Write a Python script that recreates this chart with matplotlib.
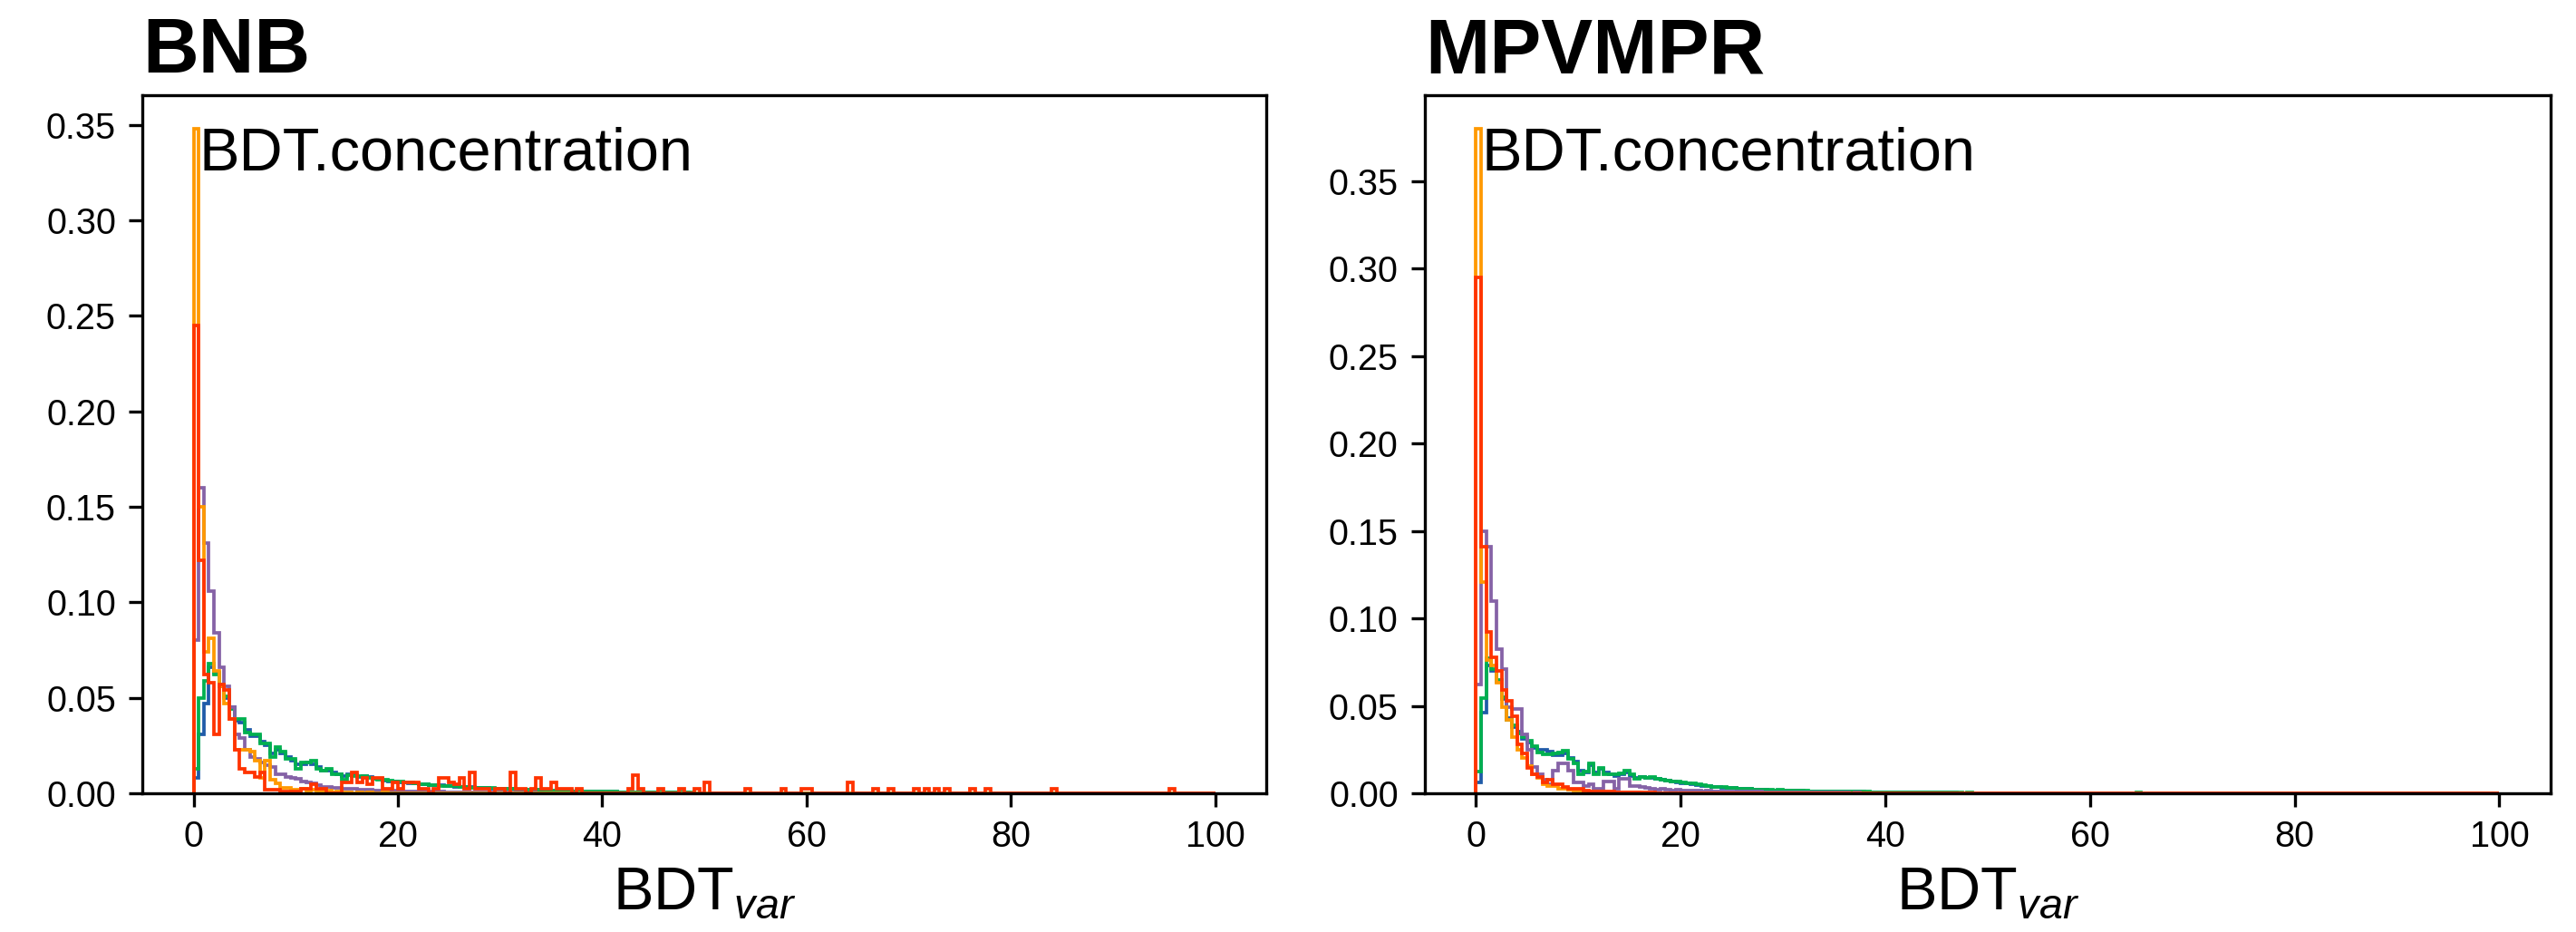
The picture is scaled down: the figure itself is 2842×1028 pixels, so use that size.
import numpy as np
import matplotlib
matplotlib.use("Agg")
import matplotlib.pyplot as plt

plt.rcParams["font.family"] = ["Liberation Sans", "DejaVu Sans"]
plt.rcParams["mathtext.fontset"] = "custom"
plt.rcParams["mathtext.rm"] = "Liberation Sans"
plt.rcParams["mathtext.it"] = "Liberation Sans:italic"
plt.rcParams["mathtext.bf"] = "Liberation Sans:bold"

# 200 bins of width 0.5 between 0 and 100
EDGES = np.linspace(0, 100, 201)
N_BINS = len(EDGES) - 1

PANELS = ["BNB", "MPVMPR"]
SERIES = ["blue", "green", "purple", "orange", "red"]
COLORS = {
    "blue": "#1f5ba8",
    "green": "#00b04f",
    "purple": "#8562a6",
    "orange": "#ff9900",
    "red": "#ff3300",
}

# ---- BNB (left) ----
blue_bnb = [
    0.008, 0.031, 0.047, 0.066, 0.063, 0.056, 0.050, 0.045, 0.038, 0.037,
    0.033, 0.030, 0.030, 0.027, 0.025, 0.021, 0.023, 0.021, 0.019, 0.017,
    0.015, 0.015, 0.016, 0.015, 0.014, 0.012, 0.012, 0.011, 0.010, 0.009,
    0.0098, 0.0093, 0.0085, 0.0088, 0.0084, 0.0076, 0.0074, 0.0068, 0.0064, 0.0063,
    0.0058, 0.0057, 0.0053, 0.0051, 0.0047, 0.0047, 0.0042, 0.0041, 0.0041, 0.0037,
    0.0037, 0.0035, 0.0035, 0.0032, 0.0032, 0.0029, 0.0030, 0.0029, 0.0026, 0.0025,
    0.0025, 0.0024, 0.0023, 0.0021, 0.0021, 0.0019, 0.0019, 0.0018, 0.0016, 0.0016,
    0.0015, 0.0015, 0.0014, 0.0014, 0.0012, 0.0012, 0.0011, 0.0011, 0.0010, 0.0009,
    0.0009, 0.0008, 0.0008, 0.0007, 0.0007, 0.0006, 0.0006, 0.0005, 0.0005, 0.0005,
    0.0004, 0.0004, 0.0004, 0.0003, 0.0003, 0.0003, 0.0003, 0.0002, 0.0002, 0.0002,
    0.0002, 0.0002, 0.0001, 0.0002, 0.0001, 0.0001, 0.0001, 0.0001, 0.0001, 0.0001,
    0.0001, 0.0, 0.0001, 0.0001, 0.0, 0.0001, 0.0, 0.0, 0.0001, 0.0,
]
green_bnb = [
    0.013, 0.050, 0.059, 0.068, 0.062, 0.057, 0.051, 0.044, 0.039, 0.039,
    0.032, 0.031, 0.031, 0.026, 0.026, 0.019, 0.024, 0.022, 0.018, 0.018,
    0.013, 0.016, 0.016, 0.017, 0.013, 0.012, 0.013, 0.010, 0.010, 0.007,
    0.0095, 0.0090, 0.0088, 0.0090, 0.0082, 0.0078, 0.0072, 0.0070, 0.0066, 0.0062,
    0.0060, 0.0056, 0.0055, 0.0050, 0.0048, 0.0046, 0.0043, 0.0042, 0.0040, 0.0038,
    0.0036, 0.0037, 0.0034, 0.0033, 0.0031, 0.0030, 0.0031, 0.0028, 0.0027, 0.0026,
    0.0024, 0.0025, 0.0022, 0.0021, 0.0020, 0.0019, 0.0020, 0.0018, 0.0017, 0.0016,
    0.0015, 0.0016, 0.0014, 0.0013, 0.0012, 0.0013, 0.0011, 0.0010, 0.0010, 0.0009,
    0.0009, 0.0008, 0.0008, 0.0007, 0.0007, 0.0006, 0.0006, 0.0006, 0.0005, 0.0005,
    0.0005, 0.0004, 0.0004, 0.0004, 0.0003, 0.0003, 0.0003, 0.0003, 0.0002, 0.0002,
    0.0002, 0.0002, 0.0002, 0.0002, 0.0001, 0.0002, 0.0001, 0.0001, 0.0001, 0.0001,
    0.0001, 0.0001, 0.0001, 0.0, 0.0001, 0.0001, 0.0, 0.0001, 0.0, 0.0001,
]
purple_bnb = [
    0.080, 0.160, 0.131, 0.106, 0.084, 0.066, 0.056, 0.045, 0.031, 0.029,
    0.023, 0.019, 0.018, 0.016, 0.0149, 0.014, 0.010, 0.010, 0.0085, 0.008,
    0.0075, 0.006, 0.0055, 0.005, 0.0045, 0.0035, 0.0033, 0.003, 0.0028, 0.0025,
    0.0024, 0.0022, 0.0020, 0.0019, 0.0018, 0.0016, 0.0015, 0.0014, 0.0014, 0.0013,
    0.0012, 0.0012, 0.0011, 0.0010, 0.0010, 0.0009, 0.0009, 0.0008, 0.0008, 0.0007,
    0.0007, 0.0007, 0.0006, 0.0006, 0.0005, 0.0005, 0.0005, 0.0004, 0.0004, 0.0004,
    0.0004, 0.0003, 0.0003, 0.0003, 0.0003, 0.0002, 0.0003, 0.0002, 0.0002, 0.0002,
    0.0002, 0.0002, 0.0001, 0.0002, 0.0001, 0.0001, 0.0001, 0.0001, 0.0001, 0.0001,
    0.0001, 0.0001, 0.0, 0.0001, 0.0001, 0.0, 0.0001, 0.0, 0.0001, 0.0,
    0.0001, 0.0, 0.0, 0.0001, 0.0, 0.0, 0.0001, 0.0, 0.0, 0.0,
    0.0, 0.0001, 0.0, 0.0, 0.0, 0.0001,
]
orange_bnb = [
    0.348, 0.150, 0.074, 0.081, 0.064, 0.056, 0.047, 0.039, 0.023, 0.023,
    0.023, 0.022, 0.017, 0.008, 0.017, 0.007, 0.005, 0.003, 0.003, 0.002,
    0.002, 0.0025, 0.001, 0.002, 0.001, 0.001, 0.0015, 0.0005, 0.001, 0.0005,
    0.0005, 0.0, 0.0005, 0.0, 0.0005, 0.0, 0.0, 0.0005, 0.0, 0.0,
]
red_bnb = [
    0.245, 0.122, 0.062, 0.058, 0.031, 0.057, 0.054, 0.039, 0.023, 0.013,
    0.011, 0.011, 0.0085, 0.011, 0.002, 0.002, 0.002, 0.001, 0.001, 0.001,
    0.001, 0.0025, 0.0025, 0.0048, 0.0025, 0.0025, 0.0, 0.0,
]
# isolated red bins further out: {bin index: value}
red_bnb_tail = {
    29: 0.0055, 30: 0.0055, 31: 0.011, 32: 0.0055, 33: 0.0082, 34: 0.0048,
    35: 0.0079, 36: 0.0079, 37: 0.0024, 38: 0.0024, 39: 0.0055, 40: 0.0024,
    41: 0.0055, 42: 0.0055, 43: 0.0055, 44: 0.0024, 45: 0.0024, 47: 0.0024,
    48: 0.0082, 49: 0.0082, 50: 0.0055, 51: 0.0048, 52: 0.0082, 53: 0.0024,
    54: 0.011, 55: 0.0024, 56: 0.0024, 57: 0.0024, 59: 0.0024, 60: 0.0024,
    62: 0.011, 63: 0.0024, 64: 0.0024, 66: 0.0024, 67: 0.0082, 68: 0.0024,
    69: 0.0024, 70: 0.0055, 71: 0.0024, 72: 0.0024, 73: 0.0024, 75: 0.0024,
    85: 0.0024, 86: 0.0095, 87: 0.0024, 91: 0.0024, 95: 0.0024, 98: 0.0024,
    100: 0.0055, 108: 0.0024, 115: 0.0024, 119: 0.0024, 120: 0.0024,
    128: 0.0055, 133: 0.0024, 136: 0.0024, 141: 0.0024, 143: 0.0024,
    145: 0.0024, 147: 0.0024, 152: 0.0024, 155: 0.0024, 168: 0.0024,
    191: 0.0024,
}

# ---- MPVMPR (right) ----
blue_mpv = [
    0.006, 0.046, 0.073, 0.070, 0.064, 0.054, 0.043, 0.038, 0.035, 0.031,
    0.029, 0.026, 0.025, 0.025, 0.024, 0.022, 0.022, 0.023, 0.020, 0.018,
    0.013, 0.012, 0.016, 0.012, 0.014, 0.012, 0.011, 0.010, 0.011, 0.012,
    0.010, 0.0090, 0.0092, 0.0088, 0.0090, 0.0082, 0.0078, 0.0072, 0.0066, 0.0063,
    0.0058, 0.0056, 0.0053, 0.0049, 0.0044, 0.0041, 0.0037, 0.0035, 0.0033, 0.0032,
    0.0030, 0.0027, 0.0026, 0.0024, 0.0022, 0.0020, 0.0020, 0.0018, 0.0018, 0.0017,
    0.0016, 0.0016, 0.0015, 0.0014, 0.0013, 0.0013, 0.0012, 0.0012, 0.0011, 0.0011,
    0.0010, 0.0010, 0.0009, 0.0009, 0.0008, 0.0008, 0.0007, 0.0007, 0.0007, 0.0006,
    0.0006, 0.0005, 0.0005, 0.0005, 0.0005, 0.0004, 0.0004, 0.0004, 0.0004, 0.0003,
    0.0003, 0.0003, 0.0003, 0.0003, 0.0002, 0.0002, 0.0002, 0.0002, 0.0002, 0.0002,
    0.0001, 0.0002, 0.0001, 0.0001, 0.0001, 0.0001, 0.0001, 0.0001, 0.0, 0.0001,
]
green_mpv = [
    0.0125, 0.0545, 0.077, 0.071, 0.065, 0.055, 0.042, 0.039, 0.034, 0.032,
    0.030, 0.027, 0.0233, 0.0225, 0.0225, 0.023, 0.0233, 0.0242, 0.0198, 0.017,
    0.011, 0.0122, 0.017, 0.011, 0.0147, 0.011, 0.011, 0.011, 0.0115, 0.013,
    0.011, 0.0085, 0.0095, 0.0090, 0.0095, 0.0085, 0.0080, 0.0075, 0.0068, 0.0065,
    0.0060, 0.0058, 0.0055, 0.0050, 0.0045, 0.0040, 0.0038, 0.0036, 0.0034, 0.0033,
    0.0031, 0.0028, 0.0026, 0.0024, 0.0022, 0.0021, 0.0020, 0.0019, 0.0018, 0.0019,
    0.0017, 0.0016, 0.0015, 0.0015, 0.0014, 0.0013, 0.0013, 0.0012, 0.0011, 0.0012,
    0.0011, 0.0010, 0.0010, 0.0009, 0.0009, 0.0008, 0.0008, 0.0007, 0.0007, 0.0007,
    0.0006, 0.0006, 0.0005, 0.0005, 0.0005, 0.0005, 0.0004, 0.0004, 0.0004, 0.0004,
    0.0003, 0.0004, 0.0003, 0.0003, 0.0003, 0.0002, 0.0003, 0.0002, 0.0002, 0.0002,
    0.0002, 0.0002, 0.0001, 0.0002, 0.0001, 0.0001, 0.0001, 0.0001, 0.0001, 0.0001,
]
green_mpv_tail = {112: 0.0001, 115: 0.0001, 120: 0.0001, 129: 0.0004}
purple_mpv = [
    0.062, 0.150, 0.141, 0.110, 0.0825, 0.071, 0.049, 0.048, 0.048, 0.0335,
    0.025, 0.015, 0.011, 0.0077, 0.005, 0.013, 0.017, 0.017, 0.013, 0.006,
    0.006, 0.0044, 0.005, 0.0026, 0.0026, 0.0069, 0.0069, 0.0026, 0.0085, 0.0085,
    0.004, 0.004, 0.0035, 0.003, 0.0025, 0.002, 0.0025, 0.002, 0.0018, 0.002,
    0.0016, 0.0015, 0.0016, 0.0014, 0.0013, 0.0014, 0.0012, 0.0011, 0.0012, 0.0010,
    0.0010, 0.0009, 0.0010, 0.0008, 0.0008, 0.0009, 0.0007, 0.0007, 0.0006, 0.0007,
    0.0006, 0.0005, 0.0006, 0.0005, 0.0004, 0.0005, 0.0004, 0.0004, 0.0003, 0.0004,
    0.0003, 0.0003, 0.0003, 0.0002, 0.0003, 0.0002, 0.0002, 0.0002, 0.0001, 0.0002,
    0.0001, 0.0001, 0.0001, 0.0001, 0.0001, 0.0, 0.0001, 0.0, 0.0001, 0.0,
]
orange_mpv = [
    0.380, 0.121, 0.076, 0.073, 0.063, 0.049, 0.042, 0.032, 0.025, 0.020,
    0.0155, 0.011, 0.009, 0.005, 0.0044, 0.0044, 0.0026, 0.0026, 0.002, 0.0015,
    0.0015, 0.001, 0.001, 0.0008, 0.0008, 0.0006, 0.0005, 0.0005, 0.0004, 0.0003,
    0.0003, 0.0003, 0.0002, 0.0002, 0.0002, 0.0001, 0.0001, 0.0001, 0.0, 0.0001,
]
orange_mpv_tail = {45: 0.0001, 52: 0.0001, 60: 0.0001, 71: 0.0001, 84: 0.0001, 100: 0.0001}
red_mpv = [
    0.295, 0.141, 0.092, 0.078, 0.070, 0.059, 0.053, 0.044, 0.028, 0.023,
    0.0147, 0.011, 0.0095, 0.006, 0.0077, 0.005, 0.005, 0.0034, 0.0026, 0.0026,
    0.0026, 0.0015, 0.0012, 0.0012, 0.001, 0.0008, 0.0008, 0.0006, 0.0005, 0.0005,
    0.0004, 0.0004, 0.0003, 0.0003, 0.0003, 0.0002, 0.0002, 0.0002, 0.0001, 0.0001,
]

DATA = {
    "BNB": {
        "blue": (blue_bnb, None),
        "green": (green_bnb, None),
        "purple": (purple_bnb, None),
        "orange": (orange_bnb, None),
        "red": (red_bnb, red_bnb_tail),
    },
    "MPVMPR": {
        "blue": (blue_mpv, None),
        "green": (green_mpv, green_mpv_tail),
        "purple": (purple_mpv, None),
        "orange": (orange_mpv, orange_mpv_tail),
        "red": (red_mpv, None),
    },
}


def bin_values(head, tail=None):
    vals = np.zeros(N_BINS)
    vals[: len(head)] = head
    for idx, v in (tail or {}).items():
        vals[idx] = v
    return vals


fig = plt.figure(figsize=(2842 / 300, 1028 / 300), dpi=300)
positions = [[0.0553, 0.1488, 0.4363, 0.7490], [0.5531, 0.1488, 0.4370, 0.7490]]
centers = 0.5 * (EDGES[:-1] + EDGES[1:])

for name, pos in zip(PANELS, positions):
    ax = fig.add_axes(pos)
    for key in SERIES:
        head, tail = DATA[name][key]
        ax.hist(centers, bins=EDGES, weights=bin_values(head, tail),
                histtype="step", color=COLORS[key], linewidth=0.9)
    ax.set_xticks([0, 20, 40, 60, 80, 100])
    ax.tick_params(labelsize=9.5)
    ax.set_xlabel(r"BDT$_{var}$", fontsize=16, labelpad=3)
    ax.set_title(name, loc="left", fontsize=20.5, fontweight="bold")
    ax.text(0.05, 0.955, "BDT.concentration", transform=ax.transAxes,
            fontsize=16, va="top", ha="left")

fig.savefig("out.png", dpi=300)
